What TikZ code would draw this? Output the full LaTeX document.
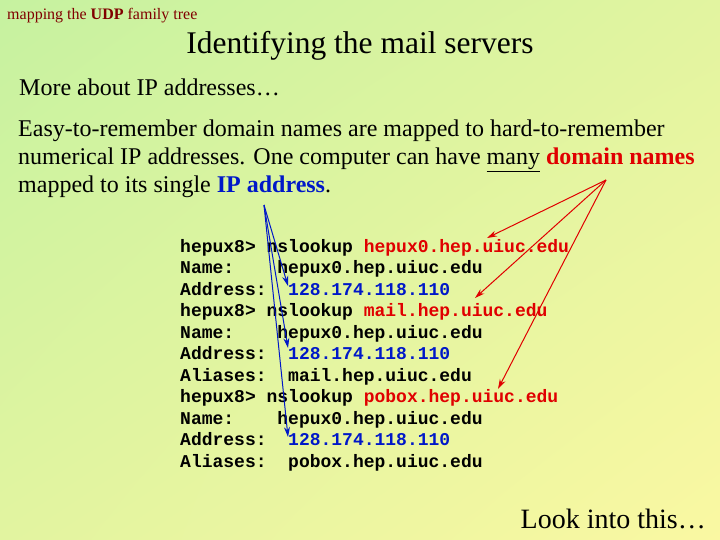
\documentclass[tikz,border=0pt]{standalone}
\usepackage{fontspec}
\setmainfont{Liberation Serif}
\setmonofont{Liberation Mono}
\usetikzlibrary{arrows.meta,shadings}
\definecolor{bgA}{HTML}{C6F2A0}
\definecolor{bgB}{HTML}{FAF8A2}
\definecolor{bgC}{HTML}{E2F4A0}
\definecolor{hdr}{HTML}{800000}
\definecolor{dn}{HTML}{E00000}
\definecolor{ipb}{HTML}{0018C8}
\tikzset{
  txt/.style={anchor=base west,inner sep=0pt,font=\fontsize{24}{28}\selectfont},
  code/.style={anchor=base west,inner sep=0pt,font=\fontsize{18}{21.5}\ttfamily\bfseries},
  red arrow/.style={draw=dn,line width=1pt,-{Stealth[length=10pt,width=6pt]}},
  blue arrow/.style={draw=ipb,line width=1pt,-{Stealth[length=10pt,width=6pt]}}
}
\begin{document}
\begin{tikzpicture}[x=1pt,y=-1pt]
\useasboundingbox (0,0) rectangle (720,540);
\shade[upper left=bgA,upper right=bgC,lower left=bgC,lower right=bgB] (0,0) rectangle (720,540);
\node[anchor=base west,inner sep=0pt,text=hdr,font=\fontsize{16}{18}\selectfont] (hdr) at (7,20) {mapping the \textbf{UDP} family tree};
\node[anchor=base,inner sep=0pt,font=\fontsize{31.5}{34}\selectfont] (title) at (360,54) {Identifying the mail servers};
\node[txt] (more) at (19,96) {More about IP addresses\ldots};
\node[txt] (p1) at (18,137) {Easy-to-remember domain names are mapped to hard-to-remember};
\node[txt] (p2) at (18,165) {numerical IP addresses. One computer can have \underline{many} \textcolor{dn}{\textbf{domain names}}};
\node[txt] (p3) at (18,193) {mapped to its single \textcolor{ipb}{\textbf{IP address}}.};
\coordinate (ipsrc) at (264,205);
\coordinate (dnsrc) at (606,180);
\foreach \i/\t in {
 1/{hepux8>~nslookup~\textcolor{dn}{hepux0.hep.uiuc.edu}},
 2/{Name:~~~~hepux0.hep.uiuc.edu},
 3/{Address:~~\textcolor{ipb}{128.174.118.110}},
 4/{hepux8>~nslookup~\textcolor{dn}{mail.hep.uiuc.edu}},
 5/{Name:~~~~hepux0.hep.uiuc.edu},
 6/{Address:~~\textcolor{ipb}{128.174.118.110}},
 7/{Aliases:~~mail.hep.uiuc.edu},
 8/{hepux8>~nslookup~\textcolor{dn}{pobox.hep.uiuc.edu}},
 9/{Name:~~~~hepux0.hep.uiuc.edu},
 10/{Address:~~\textcolor{ipb}{128.174.118.110}},
 11/{Aliases:~~pobox.hep.uiuc.edu}}
 \node[code] (c\i) at (180,{252+(\i-1)*21.5}) {\t};
\coordinate (t1) at (487,238);
\coordinate (t2) at (475,298);
\coordinate (t3) at (498,389);
\coordinate (b1) at (288,286);
\coordinate (b2) at (288,348);
\coordinate (b3) at (288,437);
\foreach \k in {1,2,3} {
  \draw[red arrow] (dnsrc) -- (t\k);
  \draw[blue arrow] (ipsrc) -- (b\k);
}
\node[anchor=base east,inner sep=0pt,font=\fontsize{28}{32}\selectfont] (look) at (706,528) {Look into this\ldots};
\end{tikzpicture}
\end{document}
